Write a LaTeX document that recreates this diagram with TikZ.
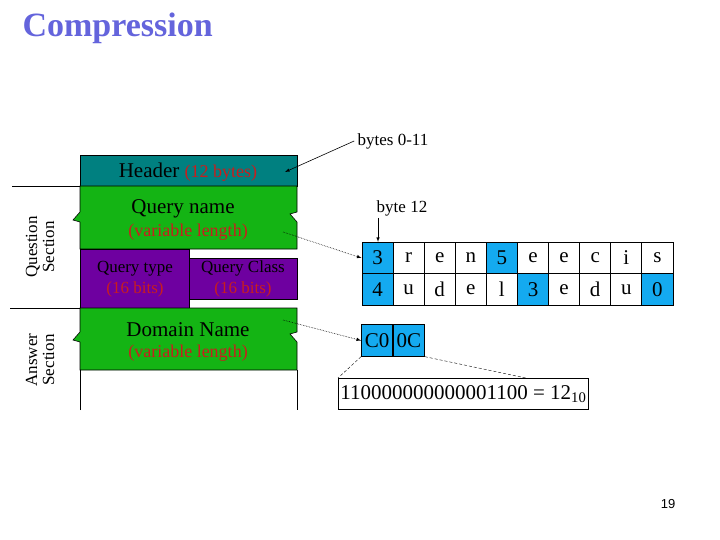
\documentclass[tikz,border=0pt]{standalone}
\usepackage{fontspec}
\setmainfont{Liberation Serif}
\newfontfamily\sansf{Liberation Sans}
\usetikzlibrary{positioning, arrows}
\definecolor{titleblue}{RGB}{100,100,220}
\definecolor{hdrteal}{RGB}{0,128,128}
\definecolor{fldgreen}{RGB}{20,180,20}
\definecolor{fldpurple}{RGB}{110,0,160}
\definecolor{cellblue}{RGB}{20,170,240}
\definecolor{lblred}{RGB}{200,30,30}
\tikzset{
    x=1pt, y=-1pt,
    field/.style={draw=black, line width=0.6pt},
    cell/.style={draw=black, line width=0.8pt, minimum width=31.1pt, minimum height=31.5pt, inner sep=0pt, font=\fontsize{21}{21}\selectfont},
    blue cell/.style={cell, fill=cellblue},
    ptr/.style={-latex, line width=0.6pt},
}
\begin{document}
\begin{tikzpicture}
    \useasboundingbox (0,0) rectangle (720,540);
    \node[font=\fontsize{34}{34}\selectfont\bfseries, text=titleblue, anchor=west] (title) at (19,28) {Compression};

    % message fields
    \filldraw[field, fill=hdrteal] (80,155) rectangle (297,186);
    \node (hdr) at (188,172) {\fontsize{21}{21}\selectfont Header \textcolor{lblred}{\fontsize{18}{18}\selectfont(12 bytes)}};
    \filldraw[field, fill=fldgreen] (80,186) -- (297,186) -- (297,212) -- (290,214) -- (297,222) -- (297,249)
        -- (80,249) -- (80,222) -- (73,220) -- (80,212) -- cycle;
    \node (qname) at (183,209) {\fontsize{21}{21}\selectfont Query name};
    \node (qnlen) at (188,232) {\textcolor{lblred}{\fontsize{18}{18}\selectfont(variable length)}};
    \filldraw[field, fill=fldpurple] (80,249) rectangle (189,308);
    \filldraw[field, fill=fldpurple] (189,258) rectangle (297,299);
    \node[align=center, font=\fontsize{17}{21}\selectfont] (qtype) at (135,279) {Query type\\\textcolor{lblred}{(16 bits)}};
    \node[align=center, font=\fontsize{17}{21}\selectfont] (qclass) at (243,279) {Query Class\\\textcolor{lblred}{(16 bits)}};
    \filldraw[field, fill=fldgreen] (80,308) -- (297,308) -- (297,332) -- (290,334) -- (297,342) -- (297,370)
        -- (80,370) -- (80,342) -- (73,340) -- (80,332) -- cycle;
    \node (dname) at (188,330) {\fontsize{21}{21}\selectfont Domain Name};
    \node (dnlen) at (188,353) {\textcolor{lblred}{\fontsize{18}{18}\selectfont(variable length)}};
    \draw[field] (80,410) -- (80,370) (297,370) -- (297,410);

    % sections
    \draw (12,186) -- (80,186);
    \draw (10,308) -- (80,308);
    \node[rotate=90, align=center, font=\fontsize{17}{17}\selectfont] (qsec) at (40,247) {Question\\Section};
    \node[rotate=90, align=center, font=\fontsize{17}{17}\selectfont] (asec) at (40,360) {Answer\\Section};

    % labels
    \node[font=\fontsize{17}{17}\selectfont] (b011) at (393,141) {bytes 0-11};
    \node[font=\fontsize{17}{17}\selectfont] (b12) at (402,208) {byte 12};
    \coordinate (hdrend) at (285,172);
    \draw[ptr] (b011.west) -- (hdrend);

    % name bytes
    \foreach \ch [count=\i] in {3,r,e,n,5,e,e,c,i,s} {
        \node[cell] (a\i) at (377.5+31.1*\i-31.1,258) {\ch};
    }
    \foreach \ch [count=\i] in {4,u,d,e,l,3,e,d,u,0} {
        \node[cell] (b\i) at (377.5+31.1*\i-31.1,289.5) {\ch};
    }
    \foreach \n in {a1,a5,b1,b6,b10} {
        \node[blue cell] at (\n) {};
    }
    \node[font=\fontsize{21}{21}\selectfont] at (a1) {3};
    \node[font=\fontsize{21}{21}\selectfont] at (a5) {5};
    \node[font=\fontsize{21}{21}\selectfont] at (b1) {4};
    \node[font=\fontsize{21}{21}\selectfont] at (b6) {3};
    \node[font=\fontsize{21}{21}\selectfont] at (b10) {0};
    \coordinate (b12top) at (378,218);
    \draw[ptr] (b12top) -- (a1.north -| b12top);
    \coordinate (qnamept) at (283,232);
    \draw[ptr, densely dotted] (qnamept) -- (a1.west);

    % pointer
    \node[blue cell] (c0) at (377,340.5) {C0};
    \node[blue cell, right=0pt of c0] (c0c) {0C};
    \coordinate (dnamept) at (283,320);
    \draw[ptr, densely dotted] (dnamept) -- (c0.west);
    \node[draw, line width=0.8pt, anchor=north west, inner sep=2pt, minimum height=31pt, font=\fontsize{21}{21}\selectfont] (bits) at (338,378) {110000000000001100 = 12\textsubscript{10}};
    \draw[densely dashed] (c0.south west) -- (bits.north west);
    \draw[densely dashed] (c0c.south east) -- ([xshift=-63pt]bits.north east);

    \node[font=\sansf\fontsize{13}{13}\selectfont] (pg) at (668,504) {19};
\end{tikzpicture}
\end{document}
